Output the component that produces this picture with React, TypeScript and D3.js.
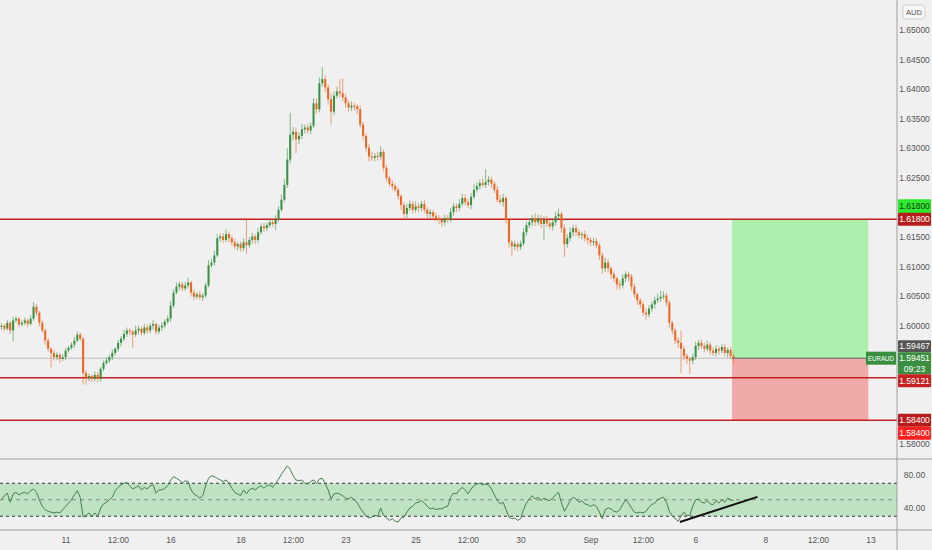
import React from 'react';
import * as d3 from 'd3';

// 2h bars, 12 per trading day. Day 0 = Aug 11 00:00, weekends skipped.
const firstBarDay = -1.885;
const barsPerDay = 12;
const firstOpen = 1.5998;

const closes = [
  1.6000, 1.5995, 1.6005, 1.5992, 1.6009, 1.6012, 1.6002, 1.6005, 1.6009, 1.6003, 1.6012, 1.6032,
  1.6022, 1.6005, 1.5992, 1.5975, 1.5961, 1.5954, 1.5947, 1.5951, 1.5944, 1.5947, 1.5958, 1.5963,
  1.5968, 1.5975, 1.5985, 1.5978, 1.5920, 1.5912, 1.5915, 1.5910, 1.5917, 1.5910, 1.5927, 1.5937,
  1.5941, 1.5947, 1.5954, 1.5961, 1.5971, 1.5978, 1.5986, 1.5992, 1.5990, 1.5985, 1.5992, 1.5995,
  1.5988, 1.5997, 1.5992, 1.6000, 1.6003, 1.5990, 1.5997, 1.6000, 1.6007, 1.6012, 1.6034, 1.6056,
  1.6066, 1.6070, 1.6063, 1.6068, 1.6073, 1.6056, 1.6049, 1.6053, 1.6048, 1.6051, 1.6068, 1.6102,
  1.6107, 1.6119, 1.6148, 1.6151, 1.6145, 1.6155, 1.6148, 1.6141, 1.6134, 1.6138, 1.6131, 1.6141,
  1.6136, 1.6145, 1.6151, 1.6145, 1.6158, 1.6168, 1.6165, 1.6170, 1.6175, 1.6172, 1.6179, 1.6196,
  1.6213, 1.6238, 1.6281, 1.6323, 1.6328, 1.6315, 1.6321, 1.6332, 1.6335, 1.6330, 1.6338, 1.6376,
  1.6366, 1.6410, 1.6417, 1.6403, 1.6383, 1.6362, 1.6389, 1.6396, 1.6393, 1.6386, 1.6376, 1.6369,
  1.6372, 1.6371, 1.6366, 1.6340, 1.6321, 1.6301, 1.6286, 1.6284, 1.6287, 1.6286, 1.6294, 1.6267,
  1.6250, 1.6240, 1.6236, 1.6230, 1.6219, 1.6204, 1.6189, 1.6199, 1.6206, 1.6196, 1.6202, 1.6199,
  1.6206, 1.6196, 1.6189, 1.6192, 1.6185, 1.6182, 1.6179, 1.6175, 1.6182, 1.6179, 1.6192, 1.6202,
  1.6199, 1.6206, 1.6216, 1.6209, 1.6204, 1.6218, 1.6230, 1.6236, 1.6241, 1.6238, 1.6243, 1.6247,
  1.6240, 1.6230, 1.6213, 1.6209, 1.6216, 1.6179, 1.6141, 1.6134, 1.6138, 1.6133, 1.6139, 1.6158,
  1.6170, 1.6175, 1.6182, 1.6175, 1.6182, 1.6172, 1.6179, 1.6173, 1.6168, 1.6175, 1.6185, 1.6189,
  1.6165, 1.6138, 1.6148, 1.6158, 1.6165, 1.6158, 1.6153, 1.6155, 1.6148, 1.6145, 1.6141, 1.6143,
  1.6136, 1.6119, 1.6097, 1.6107, 1.6097, 1.6087, 1.6080, 1.6070, 1.6068, 1.6080, 1.6087, 1.6083,
  1.6066, 1.6053, 1.6043, 1.6036, 1.6022, 1.6019, 1.6029, 1.6036, 1.6043, 1.6046, 1.6049, 1.6051,
  1.6039, 1.6005, 1.5992, 1.5975, 1.5971, 1.5961, 1.5949, 1.5944, 1.5941, 1.5947, 1.5966, 1.5971,
  1.5966, 1.5961, 1.5968, 1.5958, 1.5954, 1.5961, 1.5958, 1.5964, 1.5954, 1.5959, 1.5949, 1.5945,
];

// wick lengths in pips beyond the body
const upWick = [
  4, 3, 5, 3, 6, 4, 3, 4, 5, 3, 6, 8,
  5, 3, 4, 3, 4, 3, 5, 4, 3, 5, 4, 3,
  4, 6, 5, 4, 3, 5, 4, 3, 6, 4, 3, 4,
  5, 4, 6, 3, 5, 4, 7, 5, 4, 3, 8, 5,
  4, 6, 5, 4, 7, 3, 5, 6, 4, 5, 8, 6,
  7, 5, 4, 6, 8, 3, 5, 4, 6, 4, 5, 9,
  6, 8, 7, 5, 6, 8, 4, 5, 6, 4, 5, 7,
  41, 5, 6, 4, 7, 5, 6, 4, 5, 7, 8, 6,
  9, 10, 19, 37, 8, 7, 6, 9, 5, 7, 6, 9,
  8, 10, 20, 6, 5, 9, 7, 8, 21, 25, 6, 5,
  7, 5, 4, 6, 5, 4, 6, 8, 5, 7, 9, 4,
  5, 4, 6, 5, 4, 3, 5, 7, 6, 5, 8, 6,
  5, 6, 4, 5, 4, 6, 5, 4, 6, 5, 7, 6,
  5, 8, 7, 6, 5, 6, 9, 7, 6, 8, 22, 6,
  5, 4, 6, 8, 7, 4, 3, 5, 6, 4, 5, 7,
  6, 7, 5, 8, 6, 5, 6, 7, 5, 6, 8, 9,
  4, 6, 7, 8, 5, 6, 5, 4, 6, 5, 4, 6,
  5, 4, 5, 8, 6, 4, 5, 3, 6, 7, 5, 4,
  4, 5, 3, 4, 5, 7, 6, 5, 6, 8, 10, 7,
  5, 4, 3, 4, 6, 21, 5, 4, 3, 6, 7, 5,
  6, 5, 7, 4, 5, 6, 4, 5, 6, 4, 5, 4,
];

const downWick = [
  5, 4, 3, 6, 18, 4, 5, 3, 4, 6, 3, 4,
  5, 6, 4, 7, 5, 25, 6, 5, 7, 4, 5, 3,
  4, 5, 3, 4, 19, 12, 6, 5, 4, 6, 5, 4,
  3, 4, 5, 4, 5, 6, 4, 5, 6, 22, 4, 7,
  5, 4, 6, 5, 7, 5, 4, 6, 5, 4, 5, 4,
  3, 6, 5, 4, 5, 7, 6, 4, 5, 6, 4, 3,
  4, 5, 3, 6, 5, 4, 7, 6, 5, 7, 6, 5,
  14, 5, 6, 7, 5, 4, 6, 5, 4, 5, 10, 4,
  3, 4, 5, 6, 9, 23, 8, 6, 7, 5, 6, 4,
  7, 5, 6, 8, 9, 22, 6, 5, 7, 6, 8, 7,
  6, 7, 8, 5, 6, 7, 8, 5, 6, 7, 5, 6,
  6, 5, 7, 4, 6, 8, 9, 7, 5, 6, 5, 7,
  6, 5, 8, 7, 6, 5, 7, 8, 6, 5, 4, 6,
  7, 5, 4, 6, 5, 7, 4, 5, 6, 4, 5, 6,
  7, 6, 5, 4, 8, 6, 9, 15, 6, 7, 5, 4,
  6, 5, 7, 6, 5, 7, 28, 6, 5, 7, 6, 5,
  8, 22, 6, 5, 7, 6, 5, 7, 6, 8, 7, 6,
  5, 8, 9, 6, 7, 8, 6, 9, 7, 5, 6, 8,
  7, 6, 8, 7, 6, 9, 5, 6, 7, 5, 6, 5,
  6, 8, 7, 6, 9, 41, 7, 8, 23, 6, 5, 7,
  5, 6, 4, 7, 5, 6, 7, 5, 6, 8, 5, 10,
];

const rsi = [
  50, 55, 58, 47, 57, 59, 56, 58, 59, 57, 61, 63,
  59, 50, 42, 38, 36, 35, 34, 35, 34, 38, 42, 46,
  50, 56, 61, 53, 29, 31, 34, 30, 34, 30, 40, 45,
  47, 50, 53, 61, 65, 68, 70, 71, 67, 63, 65, 67,
  62, 65, 63, 67, 68, 58, 62, 62, 64, 67, 74, 78,
  76, 74, 70, 73, 72, 62, 57, 55, 52, 55, 67, 76,
  79, 78, 76, 74, 72, 74, 70, 64, 59, 57, 55, 62,
  57, 62, 64, 62, 65, 67, 64, 67, 68, 65, 70, 75,
  81, 86, 91, 87, 79, 74, 73, 74, 70, 69, 72, 74,
  70, 75, 76, 70, 62, 51, 57, 58, 57, 55, 52, 51,
  53, 50, 46, 40, 35, 30, 28, 29, 31, 30, 40, 31,
  28, 25, 27, 24, 23, 28, 29, 35, 40, 42, 46, 47,
  49, 46, 42, 39, 40, 38, 39, 39, 41, 42, 53, 58,
  57, 62, 65, 62, 57, 63, 67, 69, 70, 68, 69, 68,
  63, 56, 49, 45, 47, 38, 29, 27, 28, 25, 27, 38,
  46, 51, 55, 51, 53, 49, 52, 50, 49, 52, 56, 59,
  46, 36, 42, 49, 53, 51, 47, 49, 45, 44, 42, 44,
  42, 35, 27, 38, 40, 39, 36, 35, 38, 44, 50, 46,
  40, 35, 34, 35, 34, 36, 41, 44, 46, 50, 52, 53,
  47, 36, 30, 27, 24, 30, 35, 31, 31, 42, 50, 51,
  47, 46, 49, 45, 44, 49, 46, 50, 47, 52, 50, 49,
];

const priceTicks = [1.58, 1.585, 1.59, 1.595, 1.6, 1.605, 1.61, 1.615, 1.62, 1.625, 1.63, 1.635, 1.64, 1.645, 1.65];
const rsiTicks = [80, 40];
const rsiBand = [30, 70];
const rsiMid = 50;

const timeTickDays = [0, 1.5, 3, 5, 6.5, 8, 10, 11.5, 13, 15, 16.5, 18, 20, 21.5, 23];
const timeTickLabels = ['11', '12:00', '16', '18', '12:00', '23', '25', '12:00', '30', 'Sep', '12:00', '6', '8', '12:00', '13'];

const levels = [1.618, 1.59121, 1.584];
const lastPrice = 1.59451;
const prevPrice = 1.59467;
const countdown = '09:23';
const symbol = 'EURAUD';
const currency = 'AUD';

const takeProfit = 1.618;
const entryPrice = 1.59451;
const stopLoss = 1.584;
const positionBars = [251, 297.7];

const rsiTrendBars = [232.6, 259.2];
const rsiTrendValues = [23, 53.5];

const W = 932;
const H = 550;
const plotRight = 897;
const paneBottom = 459;
const rsiBottom = 530;
const font = '"Liberation Sans", Arial, sans-serif';
const bg = '#f0f0f0';
const upColor = '#379343';
const downColor = '#f2651f';

export default function App() {
  const x = d3.scaleLinear().domain([firstBarDay, firstBarDay + plotRight / 35]).range([0, plotRight]);
  const y = d3.scaleLinear().domain([1.58, 1.65]).range([444, 30]);
  const ry = d3.scaleLinear().domain([40, 80]).range([508, 475]);
  const barX = (b: number) => x(firstBarDay + (b + 0.5) / barsPerDay);
  const barEdge = (b: number) => x(firstBarDay + b / barsPerDay);
  const fmt = d3.format('.5f');
  const step = barX(1) - barX(0);
  const bodyW = Math.max(1.2, step * 0.7);

  const candles = closes.map((c, i) => {
    const o = i === 0 ? firstOpen : closes[i - 1];
    const hi = Math.max(o, c) + upWick[i] / 10000;
    const lo = Math.min(o, c) - downWick[i] / 10000;
    return { o, c, hi, lo, up: c >= o };
  });

  const rsiLine = d3.line<number>()
    .x((_, i) => barX(i))
    .y(v => ry(v))(rsi) || '';

  const tpBottom = y(entryPrice);
  const lastTop = y(lastPrice) - 6;

  // axis tags, stacked where prices collide
  const tags = [
    { key: 'tp', top: y(takeProfit) - 20, h: 14, fill: '#2eea2e', color: '#183818', lines: [fmt(takeProfit)] },
    { key: 'l0', top: y(levels[0]) - 6.5, h: 13, fill: '#b71c1c', color: '#fff', lines: [fmt(levels[0])] },
    { key: 'prev', top: lastTop - 12, h: 12, fill: '#555555', color: '#fff', lines: [fmt(prevPrice)] },
    { key: 'last', top: lastTop, h: 22, fill: '#398f3f', color: '#fff', lines: [fmt(lastPrice), countdown] },
    { key: 'l1', top: lastTop + 22, h: 13, fill: '#c62222', color: '#fff', lines: [fmt(levels[1])] },
    { key: 'l2', top: y(levels[2]) - 6.5, h: 13, fill: '#b71c1c', color: '#fff', lines: [fmt(levels[2])] },
    { key: 'sl', top: y(stopLoss) + 6.5, h: 13, fill: '#ff2020', color: '#fff', lines: [fmt(stopLoss)] },
  ];
  const visibleTicks = priceTicks.filter(p =>
    !tags.some(t => y(p) + 4 > t.top && y(p) - 4 < t.top + t.h));

  return (
    <svg width={W} height={H} style={{ position: 'absolute', left: 0, top: 0, background: bg }}>
      <defs>
        <clipPath id="pane"><rect x={0} y={0} width={plotRight} height={paneBottom} /></clipPath>
        <clipPath id="rsipane"><rect x={0} y={paneBottom} width={plotRight} height={rsiBottom - paneBottom} /></clipPath>
      </defs>
      <rect width={W} height={H} fill={bg} />

      {/* price pane */}
      <g clipPath="url(#pane)">
        <line x1={0} x2={plotRight} y1={y(lastPrice)} y2={y(lastPrice)} stroke="#bdbdbd" strokeWidth={1} />
        <rect x={barEdge(positionBars[0])} width={barEdge(positionBars[1]) - barEdge(positionBars[0])}
          y={y(takeProfit)} height={tpBottom - y(takeProfit)} fill="#adf0ad" />
        <rect x={barEdge(positionBars[0])} width={barEdge(positionBars[1]) - barEdge(positionBars[0])}
          y={tpBottom} height={y(stopLoss) - tpBottom} fill="#f0a9a9" />
        {levels.map(l => (
          <line key={l} x1={0} x2={plotRight} y1={y(l)} y2={y(l)} stroke="#c41f1f" strokeWidth={1.5} />
        ))}
        {candles.map((d, i) => (
          <g key={i}>
            <line x1={barX(i)} x2={barX(i)} y1={y(d.hi)} y2={y(d.lo)}
              stroke={d.up ? upColor : downColor} strokeOpacity={0.6} strokeWidth={1} />
            <rect x={barX(i) - bodyW / 2} width={bodyW} y={y(Math.max(d.o, d.c))}
              height={Math.max(1, Math.abs(y(d.o) - y(d.c)))} fill={d.up ? upColor : downColor} />
          </g>
        ))}
        <line x1={barEdge(positionBars[0])} x2={barEdge(positionBars[1])} y1={tpBottom} y2={tpBottom}
          stroke="#5f5f5f" strokeWidth={1} />
      </g>

      {/* RSI pane */}
      <g clipPath="url(#rsipane)">
        <rect x={0} width={plotRight} y={ry(rsiBand[1])} height={ry(rsiBand[0]) - ry(rsiBand[1])} fill="#bfe2c2" />
        {rsiBand.map(v => (
          <line key={v} x1={0} x2={plotRight} y1={ry(v)} y2={ry(v)} stroke="#3a3a3a" strokeWidth={1} strokeDasharray="3,3" />
        ))}
        <line x1={0} x2={plotRight} y1={ry(rsiMid)} y2={ry(rsiMid)} stroke="#8a8a8a" strokeWidth={1} strokeDasharray="4,4" />
        <path d={rsiLine} fill="none" stroke="#467f4f" strokeWidth={1} />
        <line x1={barX(rsiTrendBars[0])} x2={barX(rsiTrendBars[1])}
          y1={ry(rsiTrendValues[0])} y2={ry(rsiTrendValues[1])} stroke="#111" strokeWidth={2} />
      </g>

      {/* frame */}
      <line x1={0} x2={W} y1={paneBottom} y2={paneBottom} stroke="#9e9e9e" strokeWidth={1} />
      <line x1={0} x2={W} y1={rsiBottom} y2={rsiBottom} stroke="#9e9e9e" strokeWidth={1} />
      <line x1={plotRight} x2={plotRight} y1={0} y2={H} stroke="#9e9e9e" strokeWidth={1} />

      {/* price axis */}
      <rect x={plotRight + 6} y={5} width={22} height={14} rx={3} fill="#f7f7f7" stroke="#d0d0d0" />
      <text x={plotRight + 17} y={12.5} fontSize={7.5} fill="#555" textAnchor="middle" dominantBaseline="central" fontFamily={font}>{currency}</text>
      {visibleTicks.map(p => (
        <text key={p} x={plotRight + 17.5} y={y(p)} fontSize={8.5} fill="#555" textAnchor="middle"
          dominantBaseline="central" fontFamily={font}>{fmt(p)}</text>
      ))}
      {tags.map(t => (
        <g key={t.key}>
          <rect x={plotRight + 1} y={t.top} width={33} height={t.h} fill={t.fill} rx={1} />
          {t.lines.map((s, k) => (
            <text key={k} x={plotRight + 17.5} y={t.top + t.h / t.lines.length / 2 + k * (t.h / t.lines.length)}
              fill={t.color} fontSize={8.5} textAnchor="middle" dominantBaseline="central" fontFamily={font}>{s}</text>
          ))}
        </g>
      ))}

      <rect x={866} y={y(lastPrice) - 6.5} width={30} height={13} fill="#398f3f" />
      <text x={881} y={y(lastPrice)} fontSize={7.5} fill="#fff" textAnchor="middle" dominantBaseline="central"
        fontFamily={font} textLength={26} lengthAdjust="spacingAndGlyphs">{symbol}</text>

      {/* RSI axis */}
      {rsiTicks.map(v => (
        <text key={v} x={plotRight + 17.5} y={ry(v)} fontSize={8.5} fill="#555" textAnchor="middle"
          dominantBaseline="central" fontFamily={font}>{v.toFixed(2)}</text>
      ))}

      {/* time axis */}
      {timeTickDays.map((d, i) => (
        <text key={i} x={x(d)} y={540} fontSize={8.5} fill="#555" textAnchor="middle"
          dominantBaseline="central" fontFamily={font}>{timeTickLabels[i]}</text>
      ))}
    </svg>
  );
}
